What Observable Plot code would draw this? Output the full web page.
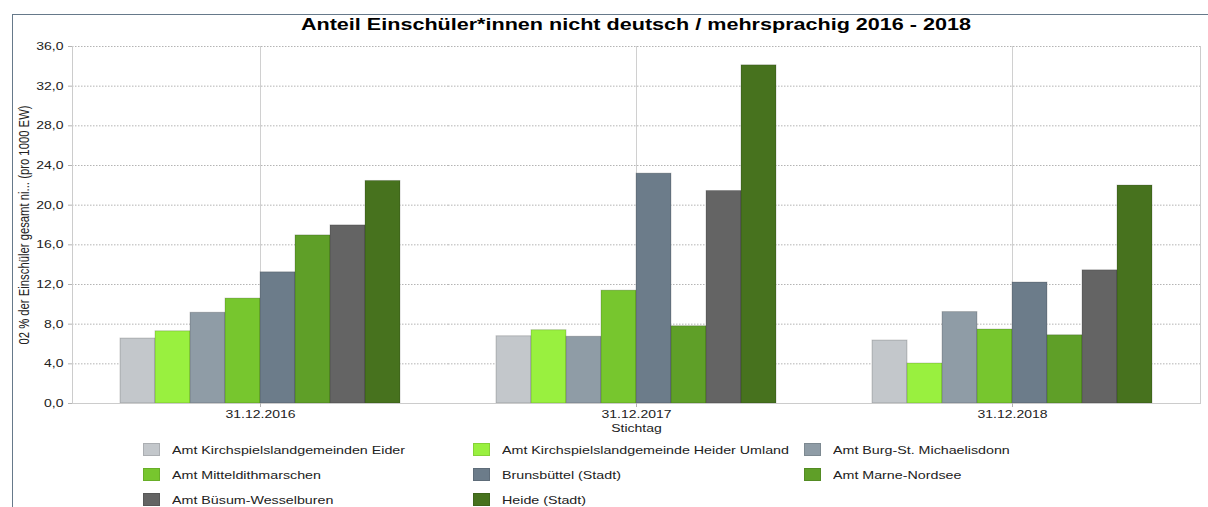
<!DOCTYPE html>
<html>
<head>
<meta charset="utf-8">
<script src="https://cdn.jsdelivr.net/npm/d3@7"></script>
<script src="https://cdn.jsdelivr.net/npm/@observablehq/plot@0.6"></script>
<style>
  body { margin: 0; background: #fff; font-family: "Liberation Sans", Arial, sans-serif; }
  #wrap { position: relative; width: 1208px; height: 507px; overflow: hidden; background: #fff; }
  #border { position: absolute; left: 12px; top: 14px; right: -2px; bottom: -2px; border-top: 1px solid #66798a; border-left: 1px solid #66798a; }
  #title { position: absolute; left: 72px; width: 1128px; top: 13px; text-align: center; font-weight: bold; font-size: 17.2px; line-height: 22px; color: #000; }
  #title span { display: inline-block; transform: scaleX(1.255); white-space: nowrap; }
  #chart { position: absolute; left: 0; top: 36px; }
  #legend { position: absolute; left: 143px; top: 437px; display: grid; grid-template-columns: 330px 331px 330px; grid-auto-rows: 25px; }
  .item { display: flex; align-items: center; font-size: 11.5px; color: #222; }
  .sw { width: 15px; height: 11px; margin-right: 12px; border: 1px solid rgba(0,0,0,0.12); flex: none; }
  .lab { display: inline-block; transform: scaleX(1.24); transform-origin: left center; white-space: nowrap; }
</style>
</head>
<body>
<div id="wrap">
  <div id="border"></div>
  <div id="title"><span>Anteil Einschüler*innen nicht deutsch / mehrsprachig 2016 - 2018</span></div>
  <div id="chart"></div>
  <div id="legend"></div>
</div>
<script>
// ---- data ----
const dates = ["31.12.2016", "31.12.2017", "31.12.2018"];
const series = [
  "Amt Kirchspielslandgemeinden Eider",
  "Amt Kirchspielslandgemeinde Heider Umland",
  "Amt Burg-St. Michaelisdonn",
  "Amt Mitteldithmarschen",
  "Brunsbüttel (Stadt)",
  "Amt Marne-Nordsee",
  "Amt Büsum-Wesselburen",
  "Heide (Stadt)"
];
const colors = ["#c3c7cb", "#99f03f", "#8f9ca6", "#77c62e", "#6c7c8a", "#5f9f28", "#646464", "#47721e"];
const values2016 = [6.55, 7.28, 9.15, 10.58, 13.23, 16.95, 17.96, 22.44];
const values2017 = [6.78, 7.39, 6.73, 11.38, 23.18, 7.79, 21.43, 34.10];
const values2018 = [6.35, 4.03, 9.22, 7.46, 12.20, 6.88, 13.43, 21.98];
const yTicks = [0, 4, 8, 12, 16, 20, 24, 28, 32, 36];
const yLabel = "02 % der Einschüler gesamt ni... (pro 1000 EW)";
const xLabel = "Stichtag";

const valuesByDate = [values2016, values2017, values2018];
const data = [];
dates.forEach((d, i) => series.forEach((s, j) => data.push({date: d, series: s, value: valuesByDate[i][j]})));

const fmt = d => d.toFixed(1).replace(".", ",");

const chart = Plot.plot({
  width: 1208,
  height: 399,
  marginLeft: 72,
  marginRight: 8,
  marginTop: 10,
  marginBottom: 32,
  style: {fontFamily: "Liberation Sans, Arial, sans-serif", fontSize: "11.3px", color: "#222", background: "transparent"},
  fx: {domain: dates, padding: 0, label: xLabel},
  x: {domain: series, paddingInner: 0, paddingOuter: 4 / 3, axis: null},
  y: {domain: [0, 36]},
  color: {domain: series, range: colors},
  marks: [
    Plot.ruleY(yTicks, {stroke: "#b4b4b4", strokeDasharray: "1.5,1.5"}),
    Plot.gridFx({stroke: "#d0d0d0", strokeOpacity: 1}),
    Plot.barY(data, {fx: "date", x: "series", y: "value", fill: "series", stroke: "#000", strokeOpacity: 0.18}),
    Plot.frame({facet: "super", anchor: "left", stroke: "#cccccc"}),
    Plot.frame({facet: "super", anchor: "right", stroke: "#cccccc"}),
    Plot.frame({facet: "super", anchor: "bottom", stroke: "#cccccc"}),
    Plot.axisY({ticks: yTicks, tickFormat: fmt, tickSize: 4, tickPadding: 5, stroke: "#b4b4b4",
      label: yLabel, labelAnchor: "center", labelArrow: false, labelOffset: 53}),
    Plot.axisFx({anchor: "bottom", tickSize: 4, tickPadding: 2, stroke: "#b4b4b4", label: xLabel,
      labelAnchor: "center", labelArrow: false, labelOffset: 28})
  ]
});
document.getElementById("chart").appendChild(chart);

// horizontal stretch of the texts, as in the reference
chart.querySelectorAll("text").forEach(el => {
  const t = el.getAttribute("transform") || "";
  if (t.includes("rotate")) {
    el.setAttribute("transform", t + " scale(1,1.24)");
  } else {
    const x = +el.getAttribute("x") || 0;
    el.setAttribute("transform", `${t} translate(${x},0) scale(1.24,1) translate(${-x},0)`);
  }
});

// legend
const legend = d3.select("#legend");
series.forEach((s, i) => {
  const it = legend.append("div").attr("class", "item");
  it.append("div").attr("class", "sw").style("background", colors[i]);
  it.append("span").attr("class", "lab").text(s);
});
</script>
</body>
</html>
